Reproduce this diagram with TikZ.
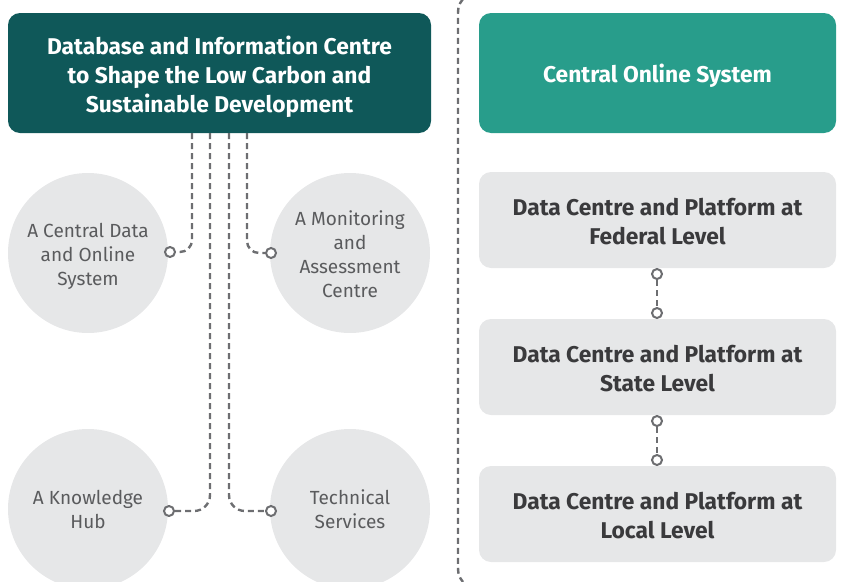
\documentclass[tikz,border=0pt]{standalone}
\usepackage{fontspec}
\setmainfont{Fira Sans}
\definecolor{darkteal}{HTML}{0F5859}
\definecolor{teal}{HTML}{289D8B}
\definecolor{lightgrey}{HTML}{E6E7E8}
\definecolor{boxtext}{HTML}{3A3A3C}
\definecolor{circtext}{HTML}{5A5B5D}
\definecolor{conncol}{HTML}{6D6E71}
\newcommand\lines[2]{\raisebox{#1}[\height][\depth]{\begin{tabular}{@{}c@{}}#2\end{tabular}}}
\tikzset{
  headbox/.style={rectangle, rounded corners=12pt, text=white, inner sep=0pt,
    font=\fontsize{22.8}{29}\selectfont\bfseries},
  levelbox/.style={rectangle, rounded corners=12pt, fill=lightgrey, text=boxtext,
    inner sep=0pt, minimum width=357pt, minimum height=96pt, font=\fontsize{22.8}{29}\selectfont\bfseries},
  topic/.style={circle, fill=lightgrey, text=circtext, inner sep=0pt,
    minimum size=160pt, font=\fontsize{19}{24}\selectfont},
  dot/.style={circle, draw=conncol, fill=white, line width=2pt, inner sep=0pt, minimum size=10pt},
  conn/.style={draw=conncol, line width=2.4pt, dash pattern=on 6pt off 4pt},
}
\begin{document}
\begin{tikzpicture}[x=1pt,y=-1pt]
\useasboundingbox (0,0) rectangle (854,581);
% header boxes
\node[headbox, fill=darkteal, minimum width=423pt, minimum height=120pt] (db) at (219.5,73)
  {\lines{-4.5pt}{Database and Information Centre\\to Shape the Low Carbon and\\Sustainable Development}};
\node[headbox, fill=teal, minimum width=357pt, minimum height=120pt] (cos) at (657.5,73)
  {\lines{-4pt}{Central Online System}};
% level boxes
\node[levelbox] (fed) at (657.5,220) {\lines{-4pt}{Data Centre and Platform at\\Federal Level}};
\node[levelbox] (sta) at (657.5,367) {\lines{-4pt}{Data Centre and Platform at\\State Level}};
\node[levelbox] (loc) at (657.5,514) {\lines{-4pt}{Data Centre and Platform at\\Local Level}};
% circles
\node[topic] (c1) at (88,253) {\lines{-4pt}{A Central Data\\and Online\\System}};
\node[topic] (c2) at (350,253) {\lines{-4pt}{A Monitoring\\and\\Assessment\\Centre}};
\node[topic] (c3) at (88,509) {\lines{-3pt}{A Knowledge\\Hub}};
\node[topic] (c4) at (350,509) {\lines{-3pt}{Technical\\Services}};
% connector start points
\coordinate (p1) at (192,133);
\coordinate (p2) at (210,133);
\coordinate (p3) at (229,133);
\coordinate (p4) at (247,133);
% dots
\node[dot] (d1) at (170,252) {};
\node[dot] (d2) at (271,253) {};
\node[dot] (d3) at (169,511) {};
\node[dot] (d4) at (271,511) {};
\draw[conn, rounded corners=12pt] (p1) |- (d1);
\draw[conn, rounded corners=12pt] (p4) |- (d2);
\draw[conn, rounded corners=16pt] (p2) |- (d3);
\draw[conn, rounded corners=16pt] (p3) |- (d4);
% right connectors
\node[dot] (e1) at (657,274) {};
\node[dot] (e2) at (657,313) {};
\node[dot] (e3) at (657,421) {};
\node[dot] (e4) at (657,460) {};
\draw[conn] (e1) -- (e2);
\draw[conn] (e3) -- (e4);
% separator bracket
\coordinate (b0) at (463,-1);
\coordinate (b1) at (458,18);
\coordinate (b2) at (458,563);
\coordinate (b3) at (463,582);
\draw[conn] (b0) .. controls (458,6) .. (b1) -- (b2) .. controls (458,575) .. (b3);
\end{tikzpicture}
\end{document}
